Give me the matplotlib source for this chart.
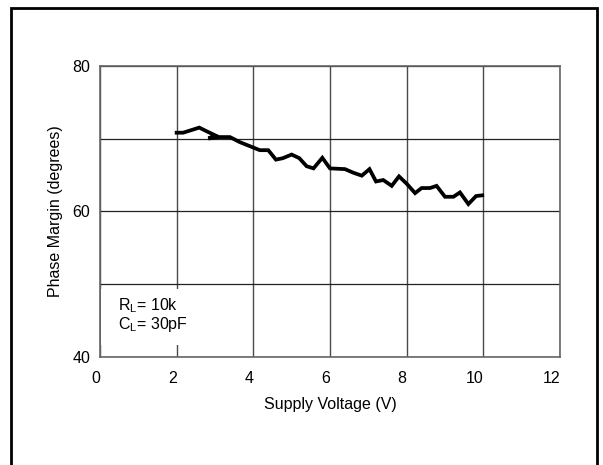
import matplotlib
matplotlib.use('Agg')
import matplotlib.pyplot as plt
import matplotlib.patches as patches

plt.rcParams['font.family'] = ['Liberation Sans', 'DejaVu Sans']
plt.rcParams['mathtext.fontset'] = 'custom'
plt.rcParams['mathtext.rm'] = 'Liberation Sans'
plt.rcParams['mathtext.it'] = 'Liberation Sans'

# supply voltage (V) and phase margin (degrees)
voltage = [2.00, 2.17, 2.35, 2.59, 2.78, 3.00, 2.83, 3.09, 3.39, 3.65, 3.91,
           4.17, 4.39, 4.59, 4.77, 5.00, 5.20, 5.39, 5.57, 5.80, 6.00, 6.39,
           6.61, 6.83, 7.03, 7.20, 7.39, 7.61, 7.80, 8.00, 8.22, 8.39, 8.61,
           8.78, 9.00, 9.22, 9.39, 9.61, 9.81, 9.97]
margin = [70.8, 70.8, 71.1, 71.5, 71.0, 70.45, 70.0, 70.2, 70.2, 69.5, 68.95,
          68.4, 68.4, 67.1, 67.3, 67.8, 67.3, 66.2, 65.9, 67.35, 65.9, 65.8,
          65.3, 64.9, 65.8, 64.1, 64.3, 63.5, 64.8, 63.8, 62.5, 63.2, 63.2,
          63.5, 62.0, 62.0, 62.6, 61.0, 62.1, 62.2]

x_ticks = [0, 2, 4, 6, 8, 10, 12]
y_ticks = [40, 60, 80]
y_grid = [50, 70]

fs = 11.5

fig = plt.figure(figsize=(6.03, 4.65), dpi=100)
ax = fig.add_axes([0.1658, 0.2323, 0.7629, 0.6264])

ax.plot(voltage, margin, color='black', lw=2.7, solid_joinstyle='miter', zorder=3)

ax.set_xlim(0, 12)
ax.set_ylim(40, 80)
ax.set_xticks(x_ticks)
ax.set_yticks(y_ticks)
ax.set_yticks(y_grid, minor=True)
ax.set_xticklabels([str(t) for t in x_ticks], ha='right')
ax.tick_params(axis='both', which='both', length=0, labelsize=fs)
ax.tick_params(axis='x', pad=10)
ax.tick_params(axis='y', pad=7)

ax.set_axisbelow(True)
ax.grid(axis='x', which='major', color='#4a4a4a', lw=1.0)
ax.grid(axis='y', which='both', color='#222222', lw=0.9)
for s in ax.spines.values():
    s.set_color('#666666')
    s.set_linewidth(1.2)

ax.set_xlabel('Supply Voltage (V)', fontsize=fs, labelpad=8)
ax.set_ylabel('Phase Margin (degrees)', fontsize=fs, labelpad=7)

# white box behind the load note
ax.add_patch(patches.Rectangle((0.003, 0.04), 0.21, 0.195, transform=ax.transAxes,
                               facecolor='white', edgecolor='none', zorder=1))
ax.text(0.04, 0.175, r'R$_{\mathrm{L}}$= 10k', transform=ax.transAxes,
        fontsize=fs, va='center', zorder=4)
ax.text(0.04, 0.11, r'C$_{\mathrm{L}}$= 30pF', transform=ax.transAxes,
        fontsize=fs, va='center', zorder=4)

# outer frame
fig.patches.append(patches.Rectangle((10.5 / 603, -0.05), 586 / 603, 1.05 - 8.5 / 465,
                                     transform=fig.transFigure, fill=False,
                                     edgecolor='black', lw=2.0, clip_on=False))

fig.savefig('out.png', dpi=100)
